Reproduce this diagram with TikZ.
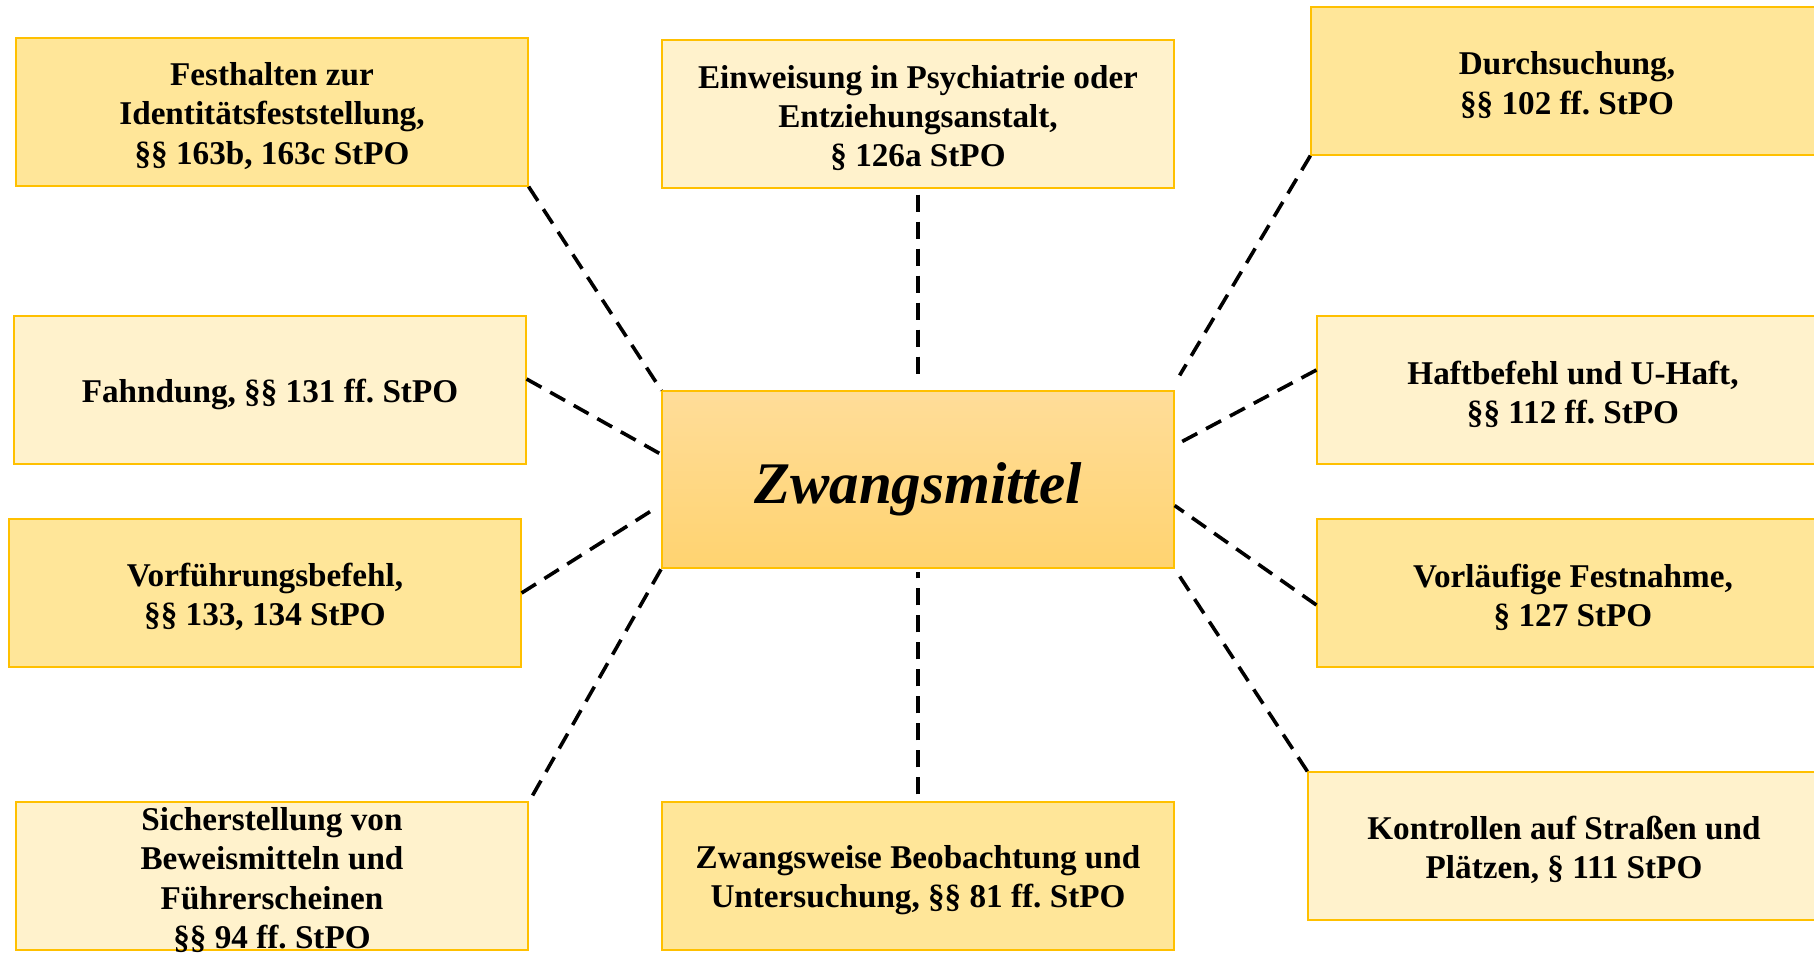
\documentclass[tikz,border=0pt]{standalone}
\usepackage{fontspec}
\setmainfont{Liberation Serif}
\frenchspacing
\definecolor{darkfill}{HTML}{FFE699}
\definecolor{lightfill}{HTML}{FFF2CC}
\definecolor{boxline}{HTML}{FFC000}
\definecolor{ctop}{HTML}{FFDD99}
\definecolor{cbot}{HTML}{FFD370}
\begin{document}
\begin{tikzpicture}[x=0.5pt,y=-0.5pt,
  box/.style={rectangle, draw=boxline, line width=0.6pt, minimum width=256pt, minimum height=74pt, inner sep=0pt},
  dark/.style={box, fill=darkfill},
  light/.style={box, fill=lightfill},
  lbl/.style={align=center, inner sep=0pt, yshift=-2pt, font=\fontsize{16.6}{19.6}\selectfont\bfseries},
  con/.style={draw=black, line width=1.8pt, dash pattern=on 8.5pt off 5pt}]
\clip (0,0) rectangle (1814,955);
\fill[white] (0,0) rectangle (1814,955);

\node[dark]  (b1) at (272,112) {};
\node[light] (b2) at (918,114) {};
\node[dark]  (b3) at (1567,81) {};
\node[light] (b4) at (270,390) {};
\node[light] (b5) at (1573,390) {};
\node[box, minimum height=88.5pt, top color=ctop, bottom color=cbot] (c) at (918,479.5) {};
\node[dark]  (b6) at (265,593) {};
\node[dark]  (b7) at (1573,593) {};
\node[light] (b8) at (272,876) {};
\node[dark]  (b9) at (918,876) {};
\node[light] (b10) at (1564,846) {};

\node[lbl] (t1) at (b1) {Festhalten zur\\Identitätsfeststellung,\\§§ 163b, 163c StPO};
\node[lbl] (t2) at (b2) {Einweisung in Psychiatrie oder\\Entziehungsanstalt,\\§ 126a StPO};
\node[lbl] (t3) at (b3) {Durchsuchung,\\§§ 102 ff. StPO};
\node[lbl] (t4) at (b4) {Fahndung, §§ 131 ff. StPO};
\node[lbl] (t5) at (b5) {Haftbefehl und U-Haft,\\§§ 112 ff. StPO};
\node[inner sep=0pt, font=\fontsize{29.5}{34}\selectfont\bfseries\itshape] (tc) at ([yshift=-5pt]c.center) {Zwangsmittel};
\node[lbl] (t6) at (b6) {Vorführungsbefehl,\\§§ 133, 134 StPO};
\node[lbl] (t7) at (b7) {Vorläufige Festnahme,\\§ 127 StPO};
\node[lbl] (t8) at (b8) {Sicherstellung von\\Beweismitteln und\\Führerscheinen\\§§ 94 ff. StPO};
\node[lbl] (t9) at (b9) {Zwangsweise Beobachtung und\\Untersuchung, §§ 81 ff. StPO};
\node[lbl] (t10) at (b10) {Kontrollen auf Straßen und\\Plätzen, § 111 StPO};

\draw[con] (b1.south east) -- (c.north west);
\draw[con] ([yshift=-3pt]b2.south) -- ([yshift=4.5pt]c.north);
\draw[con] (b3.south west) -- ([xshift=2.5pt,yshift=7.5pt]c.north east);
\draw[con] ([yshift=5.5pt]b4.east) -- ([yshift=12.5pt]c.west);
\draw[con] ([yshift=10pt]b5.west) -- ([yshift=17pt]c.east);
\draw[con] (b6.east) -- ([xshift=-4pt,yshift=-15pt]c.west);
\draw[con] ([yshift=-6pt]b7.west) -- ([yshift=-13pt]c.east);
\draw[con] ([xshift=2pt,yshift=3pt]b8.north east) -- (c.south west);
\draw[con] ([yshift=3.5pt]b9.north) -- ([yshift=-1.75pt]c.south);
\draw[con] (b10.north west) -- (c.south east);
\end{tikzpicture}
\end{document}
